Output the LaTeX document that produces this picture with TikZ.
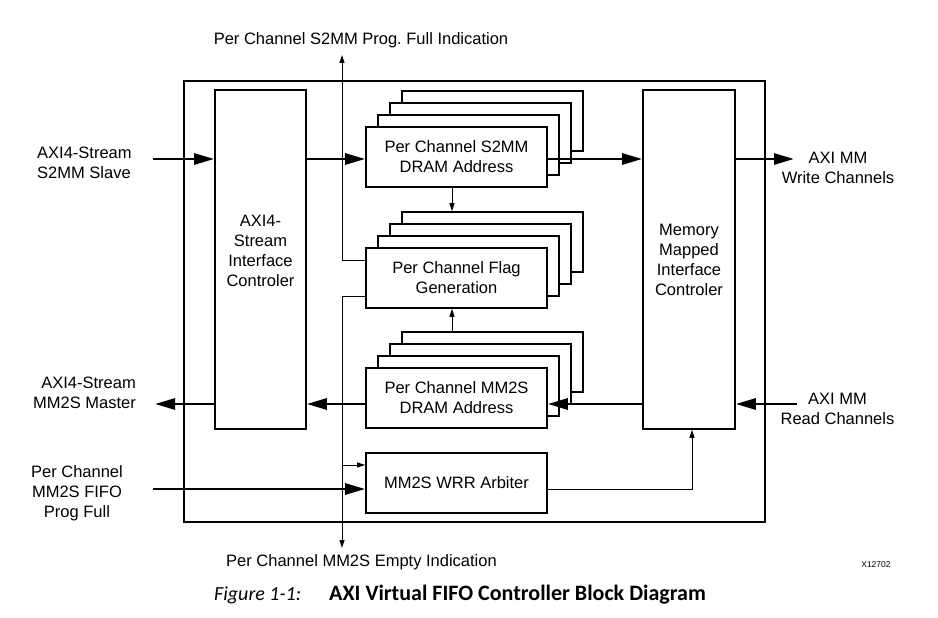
\documentclass[tikz,border=0pt]{standalone}
\usepackage{fontspec}
\setmainfont{Liberation Sans}
\newfontfamily\capfont{Carlito}
\usetikzlibrary{arrows.meta,calc}
\newcommand\dlbl{\fontsize{16.5}{20}\selectfont}
\frenchspacing
\begin{document}
\begin{tikzpicture}[x=1pt,y=-1pt,
  every node/.style={font=\dlbl},
  blk/.style={draw,line width=1.6pt,fill=white,inner sep=0pt,minimum width=181pt,minimum height=60pt,align=center},
  tall/.style={draw,line width=1.6pt,fill=white,inner sep=0pt,minimum width=91pt,minimum height=339pt},
  fat/.style={line width=2.8pt,-{Triangle[length=20pt,width=11pt]}},
  thinarr/.style={line width=0.9pt,-{Triangle[length=8pt,width=5pt]}},
  txt/.style={align=center,inner sep=0pt}]
\fill[white] (0,0) rectangle (938,618);
\useasboundingbox (0,0) rectangle (938,618);

% outer frame
\node[draw,line width=1.3pt,inner sep=0pt,minimum width=581pt,minimum height=441pt] (outer) at (474.5,301.5) {};

% tall controllers
\node[tall] (axis) at (260.5,259.5) {};
\node[txt] (axistxt) at (260.5,250.5) {AXI4-\\Stream\\Interface\\Controler};
\node[tall,minimum width=92pt] (mem) at (689,259.5) {};
\node[txt] (memtxt) at (689,259.5) {Memory\\Mapped\\Interface\\Controler};

% stacks
\foreach \k in {3,2,1}{
  \node[blk] (s2mmb\k) at ({456.5+12*\k},{157-12*\k}) {};
}
\node[blk] (s2mm) at (456.5,157) {Per Channel S2MM\\DRAM Address};
\foreach \k in {3,2,1}{
  \node[blk] (flagb\k) at ({456.5+12*\k},{278-12*\k}) {};
}
\node[blk] (flag) at (456.5,278) {Per Channel Flag\\Generation};
\foreach \k in {3,2,1}{
  \node[blk] (mm2sb\k) at ({456.5+12*\k},{398-12*\k}) {};
}
\node[blk] (mm2s) at (456.5,398) {Per Channel MM2S\\DRAM Address};
\node[blk] (wrr) at (456.5,483) {MM2S WRR Arbiter};

% outside labels
\node[txt] (progfull) at (361,40) {Per Channel S2MM Prog. Full Indication};
\node[txt] (empty) at (361.5,562) {Per Channel MM2S Empty Indication};
\node[txt,anchor=west,align=left] (s2mmslave) at (37,162.5) {AXI4-Stream\\S2MM Slave};
\node[txt,anchor=east,align=right] (mm2smaster) at (136,392.5) {AXI4-Stream\\MM2S Master};
\node[txt] (fifofull) at (77,493) {Per Channel\\MM2S FIFO\\Prog Full};
\node[txt] (wrch) at (838,167.5) {AXI MM\\Write Channels};
\node[txt] (rdch) at (837.5,409) {AXI MM\\Read Channels};
\node[txt,font=\fontsize{8.5}{10}\selectfont] (xid) at (876,565) {X12702};
\node[txt,anchor=west,font=\capfont\fontsize{20}{24}\selectfont\itshape] (capa) at (214,595) {Figure 1-1:};
\node[txt,anchor=west,font=\capfont\fontsize{22}{26}\selectfont\bfseries] (capb) at (329,595) {AXI Virtual FIFO Controller Block Diagram};

% free ends
\coordinate (inS) at (153,159);
\coordinate (outW) at (794,159);
\coordinate (inR) at (797,404);
\coordinate (outM) at (155,404);
\coordinate (inF) at (153,489);
\coordinate (topEnd) at (342,55);
\coordinate (botEnd) at (342,548);

% thick data paths
\draw[fat] (inS) -- (inS -| axis.west);
\draw[fat] (axis.east |- inS) -- (s2mm.west |- inS);
\draw[fat] (s2mm.east |- inS) -- (mem.west |- inS);
\draw[fat] (mem.east |- inS) -- (outW);
\draw[fat] (inR) -- (inR -| mem.east);
\draw[fat] (mem.west |- inR) -- (mm2s.east |- inR);
\draw[fat] (mm2s.west |- inR) -- (axis.east |- inR);
\draw[fat] (axis.west |- inR) -- (outM);
\draw[fat] (inF) -- (inF -| wrr.west);

% thin control paths
\draw[thinarr] ($(s2mm.south)+(-4.5,0)$) -- ($(flagb3.north)+(-40.5,0)$);
\draw[thinarr] ($(mm2sb3.north)+(-40.5,0)$) -- ($(flag.south)+(-4.5,0)$);
\draw[thinarr] ($(flag.west)+(0,-18)$) -| (topEnd);
\draw[thinarr] ($(flag.west)+(0,18)$) -| (botEnd);
\draw[thinarr] (342,465) -- (wrr.west |- 0,465);
\draw[thinarr] (wrr.east |- inF) -| (692,0 |- mem.south);
\end{tikzpicture}
\end{document}
